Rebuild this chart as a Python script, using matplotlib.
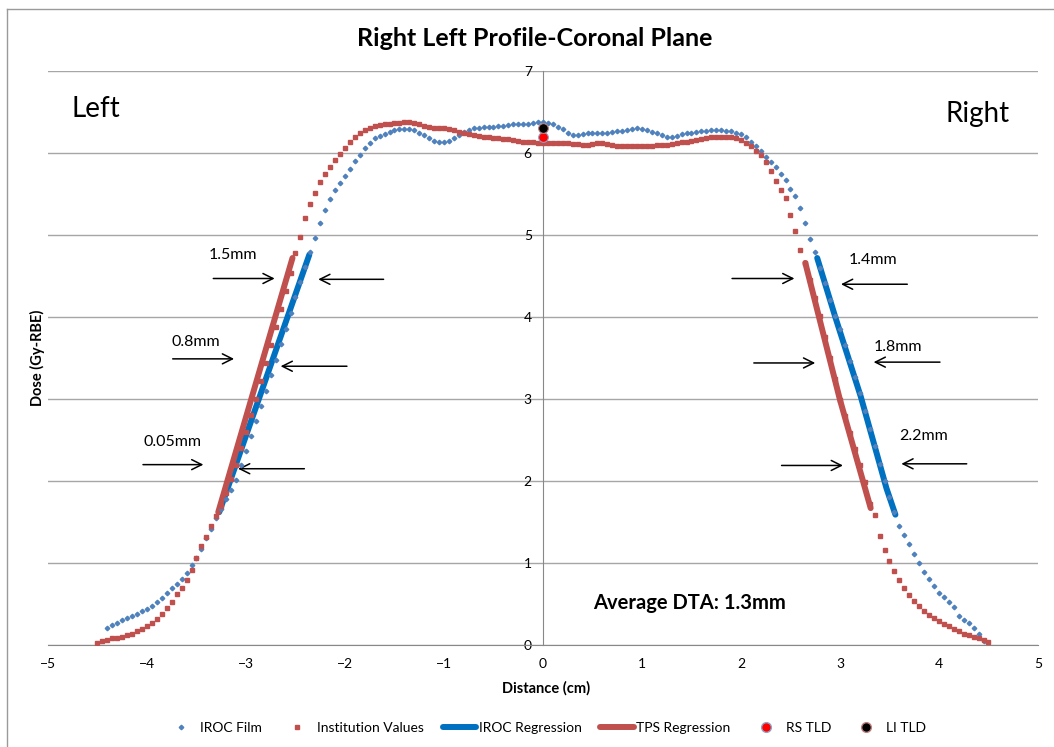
import numpy as np
import matplotlib
matplotlib.use("Agg")
import matplotlib.pyplot as plt
from matplotlib.lines import Line2D

plt.rcParams['font.family'] = ['Lato', 'DejaVu Sans']

# IROC film profile, sampled every 0.05 cm from -4.40 cm
film_start, film_step = -4.40, 0.05
film_y = [
    0.21, 0.24, 0.27, 0.30, 0.33, 0.36, 0.38, 0.41, 0.44, 0.48,
    0.52, 0.57, 0.63, 0.69, 0.75, 0.81, 0.88, 0.97, 1.06, 1.17,
    1.30, 1.42, 1.55, 1.66, 1.78, 1.89, 2.01, 2.19, 2.37, 2.55,
    2.73, 2.92, 3.10, 3.29, 3.48, 3.67, 3.86, 4.05, 4.24, 4.43,
    4.61, 4.79, 4.96, 5.15, 5.31, 5.44, 5.55, 5.63, 5.72, 5.81,
    5.90, 5.98, 6.06, 6.12, 6.18, 6.21, 6.23, 6.26, 6.28, 6.29,
    6.29, 6.29, 6.28, 6.25, 6.22, 6.18, 6.15, 6.13, 6.13, 6.15,
    6.18, 6.22, 6.26, 6.28, 6.30, 6.31, 6.32, 6.32, 6.32, 6.33,
    6.33, 6.34, 6.35, 6.35, 6.36, 6.36, 6.37, 6.38, 6.38, 6.37,
    6.35, 6.32, 6.29, 6.25, 6.22, 6.22, 6.23, 6.24, 6.24, 6.24,
    6.25, 6.25, 6.26, 6.27, 6.27, 6.28, 6.29, 6.30, 6.29, 6.28,
    6.26, 6.24, 6.22, 6.20, 6.20, 6.21, 6.23, 6.24, 6.25, 6.26,
    6.27, 6.27, 6.28, 6.28, 6.28, 6.27, 6.27, 6.25, 6.23, 6.19,
    6.14, 6.09, 6.02, 5.95, 5.89, 5.83, 5.75, 5.67, 5.56, 5.48,
    5.33, 5.15, 4.95, 4.79, 4.60, 4.41, 4.21, 4.01, 3.85, 3.66,
    3.46, 3.27, 3.07, 2.86, 2.64, 2.43, 2.21, 2.00, 1.80, 1.62,
    1.45, 1.34, 1.23, 1.11, 1.00, 0.89, 0.80, 0.72, 0.64, 0.58,
    0.52, 0.46, 0.35, 0.31, 0.27, 0.21, 0.14, 0.05,
]

# institution (TPS) profile, sampled every 0.05 cm from -4.50 cm
inst_start, inst_step = -4.50, 0.05
inst_y = [
    0.03, 0.05, 0.06, 0.08, 0.09, 0.10, 0.12, 0.14, 0.17, 0.20,
    0.23, 0.27, 0.32, 0.38, 0.45, 0.53, 0.62, 0.70, 0.79, 0.91,
    1.06, 1.21, 1.32, 1.45, 1.57, 1.70, 1.86, 2.02, 2.20, 2.40,
    2.60, 2.80, 3.00, 3.22, 3.44, 3.66, 3.88, 4.10, 4.32, 4.54,
    4.78, 4.98, 5.21, 5.38, 5.51, 5.65, 5.75, 5.83, 5.91, 5.99,
    6.06, 6.13, 6.19, 6.24, 6.28, 6.31, 6.33, 6.34, 6.35, 6.36,
    6.37, 6.37, 6.38, 6.38, 6.37, 6.35, 6.33, 6.32, 6.31, 6.30,
    6.30, 6.29, 6.28, 6.26, 6.24, 6.23, 6.22, 6.21, 6.20, 6.19,
    6.18, 6.18, 6.17, 6.17, 6.16, 6.15, 6.14, 6.13, 6.13, 6.12,
    6.12, 6.12, 6.12, 6.12, 6.12, 6.12, 6.11, 6.11, 6.10, 6.10,
    6.11, 6.12, 6.12, 6.11, 6.10, 6.09, 6.09, 6.08, 6.08, 6.08,
    6.09, 6.09, 6.09, 6.10, 6.10, 6.10, 6.11, 6.12, 6.13, 6.14,
    6.15, 6.16, 6.17, 6.18, 6.19, 6.20, 6.20, 6.20, 6.19, 6.18,
    6.16, 6.12, 6.08, 6.03, 5.97, 5.89, 5.78, 5.66, 5.55, 5.45,
    5.25, 5.05, 4.82, 4.66, 4.45, 4.23, 4.01, 3.76, 3.50, 3.25,
    2.99, 2.79, 2.59, 2.39, 2.19, 1.99, 1.72, 1.58, 1.33, 1.16,
    1.03, 0.90, 0.79, 0.70, 0.61, 0.54, 0.48, 0.42, 0.37, 0.33,
    0.29, 0.26, 0.23, 0.20, 0.17, 0.14, 0.12, 0.10, 0.08, 0.06,
    0.04,
]

film_x = film_start + film_step * np.arange(len(film_y))
inst_x = inst_start + inst_step * np.arange(len(inst_y))

# regression segments (penumbra fits)
iroc_reg_left_x = [-3.27, -2.36]
iroc_reg_left_y = [1.62, 4.76]
iroc_reg_right_x = [2.77, 2.95, 3.21, 3.47, 3.56]
iroc_reg_right_y = [4.72, 4.01, 3.03, 1.91, 1.59]
tps_reg_left_x = [-3.28, -2.53]
tps_reg_left_y = [1.62, 4.72]
tps_reg_right_x = [2.65, 3.00, 3.31]
tps_reg_right_y = [4.66, 2.99, 1.67]

# TLD point doses at the center
rs_tld = (0.0, 6.19)
li_tld = (0.0, 6.30)

# DTA labels
dta_labels = ['1.5mm', '0.8mm', '0.05mm', '1.4mm', '1.8mm', '2.2mm']

film_c = '#4F81BD'
inst_c = '#C0504D'
iroc_reg_c = '#0070C0'
tps_reg_c = '#C0504D'

fig = plt.figure(figsize=(10.54, 7.47), dpi=100)
ax = fig.add_axes([0.0455, 0.1365, 0.9393, 0.7684])

ax.plot(iroc_reg_left_x, iroc_reg_left_y, color=iroc_reg_c, lw=4.3, solid_capstyle='round', zorder=3)
ax.plot(iroc_reg_right_x, iroc_reg_right_y, color=iroc_reg_c, lw=4.3, solid_capstyle='round', zorder=3)
ax.plot(tps_reg_left_x, tps_reg_left_y, color=tps_reg_c, lw=4.3, solid_capstyle='round', zorder=3)
ax.plot(tps_reg_right_x, tps_reg_right_y, color=tps_reg_c, lw=4.3, solid_capstyle='round', zorder=3)

ax.plot(film_x, film_y, ls='none', marker='D', ms=2.3, color=film_c, mec=film_c, zorder=4)
ax.plot(inst_x, inst_y, ls='none', marker='s', ms=3.3, color=inst_c, mec=inst_c, zorder=4)

ax.plot(*rs_tld, ls='none', marker='o', ms=7, color='#FF0000', mec='#8EA4C8', mew=0.8, zorder=5)
ax.plot(*li_tld, ls='none', marker='o', ms=7, color='black', mec='#C08080', mew=0.8, zorder=5)

ax.set_xlim(-5, 5)
ax.set_ylim(0, 7)
ax.set_xticks(range(-5, 6))
ax.set_yticks(range(0, 8))
ax.grid(False)
ax.yaxis.grid(True, color='#A6A6A6', lw=1)
ax.set_axisbelow(True)
for s in ['top', 'right']:
    ax.spines[s].set_visible(False)
ax.spines['left'].set_position(('data', 0))
ax.spines['left'].set_color('#888888')
ax.spines['bottom'].set_color('#888888')
ax.tick_params(axis='both', length=0, labelsize=10, labelcolor='black')
ax.tick_params(axis='y', pad=8)
ax.tick_params(axis='x', pad=9)

# arrows: (start, end) in data units
arrows = [
    ((-3.33, 4.47), (-2.71, 4.47)), ((-1.61, 4.46), (-2.27, 4.46)),
    ((-3.74, 3.49), (-3.12, 3.49)), ((-1.98, 3.40), (-2.65, 3.40)),
    ((-4.04, 2.20), (-3.43, 2.20)), ((-2.41, 2.15), (-3.08, 2.15)),
    ((1.91, 4.47), (2.54, 4.47)), ((3.68, 4.40), (3.01, 4.40)),
    ((2.13, 3.44), (2.75, 3.44)), ((4.01, 3.45), (3.34, 3.45)),
    ((2.41, 2.19), (3.03, 2.19)), ((4.28, 2.21), (3.62, 2.21)),
]
for a, b in arrows:
    ax.annotate('', xy=b, xytext=a,
                arrowprops=dict(arrowstyle='->', color='black', lw=1.1,
                                mutation_scale=18, shrinkA=0, shrinkB=0))

label_pos = [(-3.13, 4.76), (-3.51, 3.70), (-3.74, 2.48),
             (3.33, 4.69), (3.59, 3.63), (3.84, 2.55)]
for t, (x, y) in zip(dta_labels, label_pos):
    ax.text(x, y, t, fontsize=11.5, ha='center', va='center')

ax.text(-4.52, 6.54, 'Left', fontsize=20, ha='center', va='center')
ax.text(4.39, 6.48, 'Right', fontsize=20, ha='center', va='center')
ax.text(1.48, 0.51, 'Average DTA: 1.3mm', fontsize=14.5, fontweight='bold',
        ha='center', va='center')

fig.text(0.507, 0.949, 'Right Left Profile-Coronal Plane', fontsize=18,
         fontweight='bold', ha='center', va='center')
fig.text(0.518, 0.079, 'Distance (cm)', fontsize=10.5, fontweight='bold',
         ha='center', va='center')
fig.text(0.036, 0.521, 'Dose (Gy-RBE)', fontsize=10.5, fontweight='bold',
         ha='center', va='center', rotation=90)

# chart area border (left and top edges visible)
fig.add_artist(Line2D([7 / 1054, 7 / 1054], [0, 1 - 9 / 747], color='#9A9A9A', lw=1))
fig.add_artist(Line2D([7 / 1054, 1], [1 - 9 / 747, 1 - 9 / 747], color='#9A9A9A', lw=1))

handles = [
    Line2D([], [], ls='none', marker='D', ms=2.3, color=film_c),
    Line2D([], [], ls='none', marker='s', ms=3.3, color=inst_c),
    Line2D([], [], color=iroc_reg_c, lw=4.3, solid_capstyle='round'),
    Line2D([], [], color=tps_reg_c, lw=4.3, solid_capstyle='round'),
    Line2D([], [], ls='none', marker='o', ms=7, color='#FF0000', mec='#8EA4C8'),
    Line2D([], [], ls='none', marker='o', ms=7, color='black', mec='#C08080'),
]
names = ['IROC Film', 'Institution Values', 'IROC Regression', 'TPS Regression',
         'RS TLD', 'LI TLD']
fig.legend(handles, names, loc='center', bbox_to_anchor=(0.517, 0.0254), ncol=6,
           frameon=False, fontsize=10, handlelength=2.4, handletextpad=0.2,
           columnspacing=1.35)

fig.savefig('out.png', dpi=100)
